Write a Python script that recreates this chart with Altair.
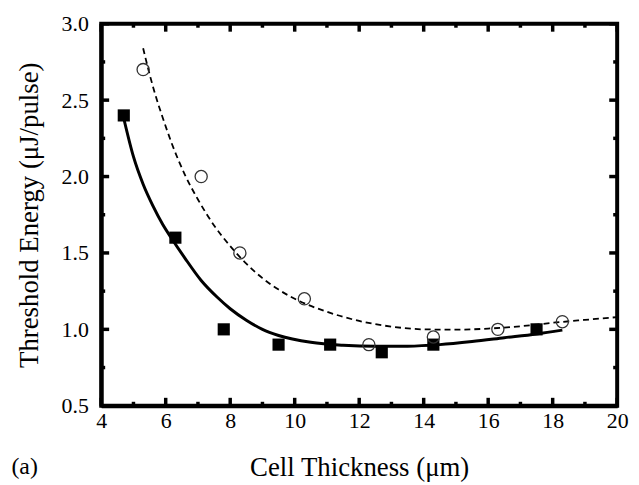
import altair as alt
import pandas as pd

sq_x = [4.7, 6.3, 7.8, 9.5, 11.1, 12.7, 14.3, 17.5]
sq_y = [2.4, 1.6, 1.0, 0.9, 0.9, 0.85, 0.9, 1.0]
ci_x = [5.3, 7.1, 8.3, 10.3, 12.3, 14.3, 16.3, 18.3]
ci_y = [2.7, 2.0, 1.5, 1.2, 0.9, 0.95, 1.0, 1.05]

# Fit curves
fit_solid_x = [4.7, 5.0, 5.3, 5.6, 5.9, 6.2, 6.6, 7.1, 7.6, 8.0, 8.5, 9.0, 9.5, 10.5, 11.5, 12.5, 13.5, 14.5, 15.5, 16.5, 17.5, 18.3]
fit_solid_y = [2.38, 2.13, 1.95, 1.81, 1.69, 1.59, 1.465, 1.32, 1.21, 1.135, 1.06, 1.0, 0.96, 0.915, 0.896, 0.889, 0.89, 0.90, 0.92, 0.945, 0.97, 0.995]
fit_dash_x = [5.3, 5.5, 5.7, 5.9, 6.2, 6.6, 7.0, 7.5, 8.0, 8.5, 9.0, 9.5, 10.0, 11.0, 12.0, 13.0, 14.0, 15.0, 16.0, 17.0, 18.0, 19.0, 20.0]
fit_dash_y = [2.84, 2.67, 2.52, 2.39, 2.21, 2.01, 1.85, 1.68, 1.545, 1.43, 1.335, 1.26, 1.2, 1.115, 1.055, 1.018, 1.0, 0.998, 1.005, 1.02, 1.043, 1.062, 1.08]

# Axis ticks
x_major = [4, 6, 8, 10, 12, 14, 16, 18, 20]
x_minor = [5, 7, 9, 11, 13, 15, 17, 19]
y_major = [0.5, 1.0, 1.5, 2.0, 2.5, 3.0]
y_minor = [0.75, 1.25, 1.75, 2.25, 2.75]
X_MIN, X_MAX = 4, 20
Y_MIN, Y_MAX = 0.5, 3.0

FONT = "Liberation Serif"
W, H = 520, 385
MAJ, MIN = 8, 4

xscale = alt.Scale(domain=[X_MIN, X_MAX], nice=False, zero=False)
yscale = alt.Scale(domain=[Y_MIN, Y_MAX], nice=False, zero=False)

sq = pd.DataFrame({"x": sq_x, "y": sq_y})
ci = pd.DataFrame({"x": ci_x, "y": ci_y})
fs = pd.DataFrame({"x": fit_solid_x, "y": fit_solid_y})
fd = pd.DataFrame({"x": fit_dash_x, "y": fit_dash_y})

x_axis = alt.Axis(values=x_major, title="Cell Thickness (\u03bcm)", ticks=False, domain=True,
                  labelPadding=5, titlePadding=23, labelFlush=False, labelOverlap=False)
y_axis = alt.Axis(values=y_major, title="Threshold Energy (\u03bcJ/pulse)", format=".1f", ticks=False,
                  domain=True, labelPadding=13, titlePadding=18, labelFlush=False, labelOverlap=False)

solid = alt.Chart(fs).mark_line(color="black", strokeWidth=3, interpolate="monotone").encode(
    x=alt.X("x:Q", scale=xscale, axis=x_axis),
    y=alt.Y("y:Q", scale=yscale, axis=y_axis),
)
dashed = alt.Chart(fd).mark_line(color="black", strokeWidth=1.8, strokeDash=[6, 4], interpolate="monotone").encode(
    x=alt.X("x:Q", scale=xscale),
    y=alt.Y("y:Q", scale=yscale),
)
squares = alt.Chart(sq).mark_point(shape="square", filled=True, color="black", size=150, opacity=1).encode(
    x=alt.X("x:Q", scale=xscale),
    y=alt.Y("y:Q", scale=yscale),
)
circles = alt.Chart(ci).mark_point(shape="circle", filled=False, color="#333333", strokeWidth=1.3, size=150, opacity=1).encode(
    x=alt.X("x:Q", scale=xscale),
    y=alt.Y("y:Q", scale=yscale),
)


def xticks(vals, edge, length):
    d = pd.DataFrame({"t": vals})
    return alt.Chart(d).mark_rule(color="black", strokeWidth=3.5, y2Offset=length).encode(
        x=alt.X("t:Q", scale=xscale),
        y=alt.Y(datum=edge, scale=yscale),
        y2=alt.Y2(datum=edge),
    )


def yticks(vals, edge, length):
    d = pd.DataFrame({"t": vals})
    return alt.Chart(d).mark_rule(color="black", strokeWidth=3.5, x2Offset=length).encode(
        y=alt.Y("t:Q", scale=yscale),
        x=alt.X(datum=edge, scale=xscale),
        x2=alt.X2(datum=edge),
    )


tick_layers = [
    xticks(x_major, Y_MIN, -MAJ), xticks(x_minor, Y_MIN, -MIN),
    xticks(x_major, Y_MAX, MAJ), xticks(x_minor, Y_MAX, MIN),
    yticks(y_major, X_MIN, MAJ), yticks(y_minor, X_MIN, MIN),
    yticks(y_major, X_MAX, -MAJ), yticks(y_minor, X_MAX, -MIN),
]

chart = alt.layer(solid, dashed, squares, circles, *tick_layers).properties(
    width=W, height=H,
    padding=11,
    title=alt.TitleParams("(a)", orient="bottom", anchor="start", frame="bounds",
                          font=FONT, fontSize=24, fontWeight="normal", color="black",
                          dx=-4, dy=-29),
).configure_view(
    stroke="black", strokeWidth=4
).configure_axis(
    grid=False, domainColor="black", domainWidth=4,
    labelFont=FONT, labelFontSize=22, labelColor="black",
    titleFont=FONT, titleFontSize=27, titleColor="black", titleFontWeight="normal",
)

chart.save("out.html", embed_options={"renderer": "svg", "actions": False})
